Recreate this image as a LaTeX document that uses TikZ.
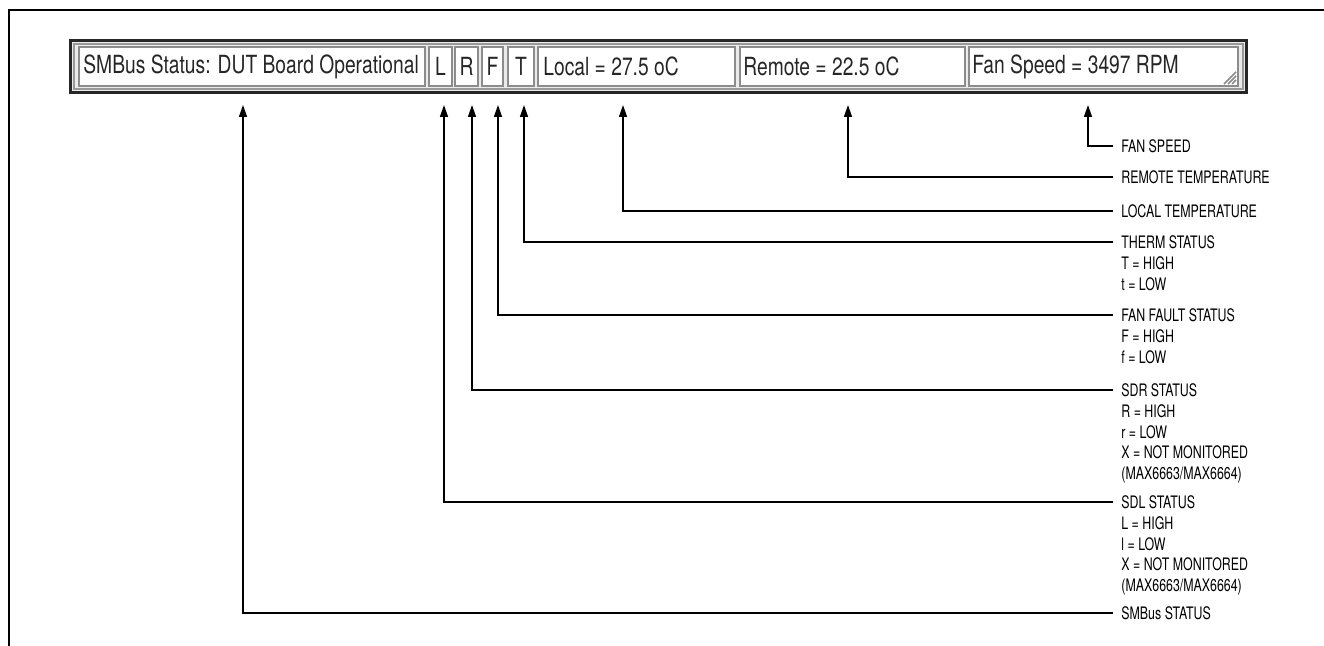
\documentclass[tikz,border=0pt]{standalone}
\usepackage{fontspec}
\setmainfont{TeX Gyre Heros}[FakeStretch=0.77]
\newfontfamily\lblfont{TeX Gyre Heros}[FakeStretch=0.72]
\usetikzlibrary{arrows.meta}

\begin{document}
\begin{tikzpicture}[x=0.5pt, y=-0.5pt,
    bar/.style={draw=black!85, line width=1.5pt, fill=black!8},
    field/.style={draw=black!45, line width=0.6pt, fill=white},
    ftxt/.style={anchor=west, inner sep=2pt, font=\fontsize{12.5}{14}\selectfont, text=black!85},
    lbl/.style={anchor=west, inner xsep=4pt, inner ysep=1pt, font=\lblfont\fontsize{8.6}{10.25}\selectfont},
    det/.style={anchor=north west, align=left, inner xsep=4pt, inner ysep=0pt, font=\lblfont\fontsize{8.6}{10.25}\selectfont},
    arr/.style={-{Triangle[length=6pt,width=4pt]}, line width=0.75pt}
]
\useasboundingbox (0,0) rectangle (1324,646);
\draw[line width=1.2pt] (9,646) |- (1324,10);

% status bar
\draw[bar] (70,40.5) rectangle (1246.5,92.5);
\draw[black!40, line width=0.8pt] (74,44) rectangle (1243,89);
\foreach \xa/\xb in {79/425, 429/452, 455/478, 482/503, 508/534, 538/735, 740/965, 969/1238}
  \draw[field] (\xa,47) rectangle (\xb,86);
\foreach \d in {0,4,8}
  \draw[black!45, line width=0.8pt] (1224+\d,84) -- (1236,72+\d);

\node[ftxt] (tSMBus) at (79,66.5) {SMBus Status: DUT Board Operational};
\node[ftxt, anchor=center] (tL) at (440.5,66.5) {L};
\node[ftxt, anchor=center] (tR) at (466.5,66.5) {R};
\node[ftxt, anchor=center] (tF) at (492.5,66.5) {F};
\node[ftxt, anchor=center] (tT) at (521,66.5) {T};
\node[ftxt] (tLocal) at (539,66.5) {Local = 27.5 oC};
\node[ftxt] (tRemote) at (739,66.5) {Remote = 22.5 oC};
\node[ftxt] (tFan) at (968,66.5) {Fan Speed = 3497 RPM};

% arrow tips under the bar
\coordinate (aSMBus) at (243,105);
\coordinate (aL) at (444,105);
\coordinate (aR) at (472,105);
\coordinate (aF) at (498,105);
\coordinate (aT) at (524,105);
\coordinate (aLocal) at (623,105);
\coordinate (aRemote) at (848,105);
\coordinate (aFan) at (1088,105);

% labels
\node[lbl] (lFan) at (1113,146) {FAN SPEED};
\node[lbl] (lRemote) at (1113,177) {REMOTE TEMPERATURE};
\node[lbl] (lLocal) at (1113,211) {LOCAL TEMPERATURE};
\node[lbl] (lTherm) at (1113,242) {THERM STATUS};
\node[det] (dTherm) at ([yshift=-4.1pt]lTherm.base west) {T = HIGH\\t = LOW};
\node[lbl] (lFault) at (1113,315) {FAN FAULT STATUS};
\node[det] (dFault) at ([yshift=-4.1pt]lFault.base west) {F = HIGH\\f = LOW};
\node[lbl] (lSDR) at (1113,390) {SDR STATUS};
\node[det] (dSDR) at ([yshift=-4.1pt]lSDR.base west) {R = HIGH\\r = LOW\\X = NOT MONITORED\\(MAX6663/MAX6664)};
\node[lbl] (lSDL) at (1113,502) {SDL STATUS};
\node[det] (dSDL) at ([yshift=-4.1pt]lSDL.base west) {L = HIGH\\l = LOW\\X = NOT MONITORED\\(MAX6663/MAX6664)};
\node[lbl] (lSMBus) at (1113,613) {SMBus STATUS};

\draw[arr] (lFan.west) -| (aFan);
\draw[arr] (lRemote.west) -| (aRemote);
\draw[arr] (lLocal.west) -| (aLocal);
\draw[arr] (lTherm.west) -| (aT);
\draw[arr] (lFault.west) -| (aF);
\draw[arr] (lSDR.west) -| (aR);
\draw[arr] (lSDL.west) -| (aL);
\draw[arr] (lSMBus.west) -| (aSMBus);
\end{tikzpicture}
\end{document}
